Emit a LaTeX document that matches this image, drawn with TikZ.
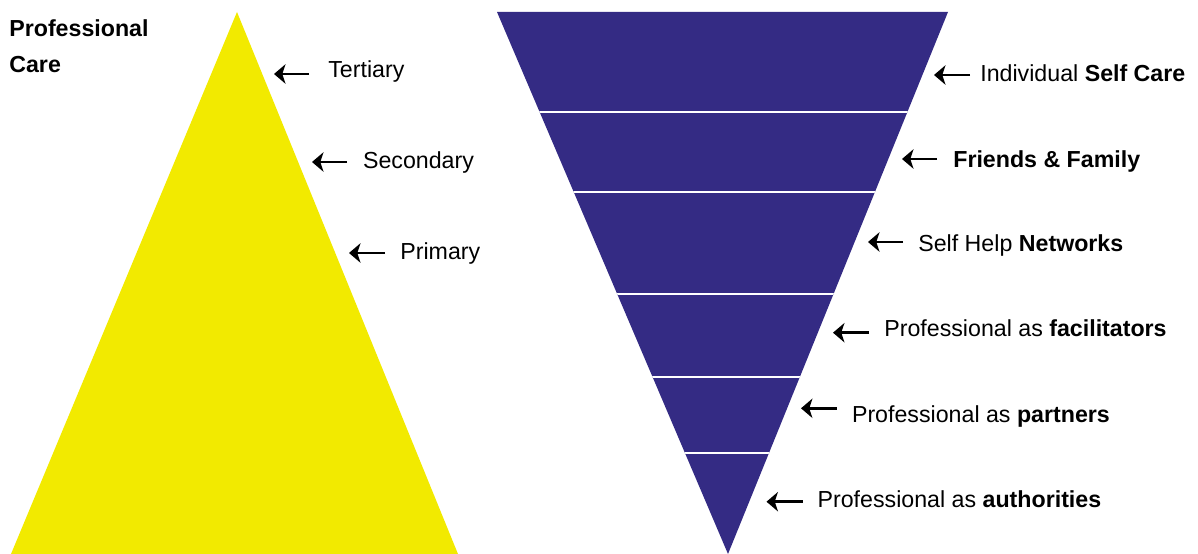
\documentclass[tikz,border=0pt]{standalone}
\usepackage{fontspec}
\setmainfont{Liberation Sans}
\usetikzlibrary{arrows.meta}
\definecolor{careyellow}{RGB}{242,234,0}
\definecolor{carepurple}{RGB}{52,43,132}
\tikzset{
    lbl/.style = {anchor = base west, inner sep = 0pt, font = \fontsize{13.2}{20.5}\selectfont},
    pointer/.style = {line width = 1.6pt, -{Stealth[length = 6.5pt, width = 11pt, inset = 1.8pt]}},
    bandline/.style = {color = white, line width = 1.1pt}
}
\begin{document}
\begin{tikzpicture}[x = 0.02cm, y = -0.02cm]
        \useasboundingbox (0,0) rectangle (1198,554);
        % professional pyramid
        \fill [careyellow] (237,12) -- (11,554) -- (458,554) -- cycle;
        % self care funnel
        \begin{scope}
            \clip (497,12) -- (948,12) -- (728,554) -- cycle;
            \fill [carepurple] (480,0) rectangle (960,554);
            \draw [bandline] (480,111.7) -- (960,111.7);
            \draw [bandline] (480,192) -- (960,192);
            \draw [bandline] (480,294) -- (960,294);
            \draw [bandline] (480,377) -- (960,377);
            \draw [bandline] (480,453) -- (960,453);
        \end{scope}
        \node [lbl, anchor = north west, align = left] (title) at (9,19) {\textbf{Professional}\\\textbf{Care}};
        % left labels
        \node [lbl] (tertiary) at (328,77.3) {Tertiary};
        \node [lbl] (secondary) at (362.7,168.3) {Secondary};
        \node [lbl] (primary) at (400,259) {Primary};
        \coordinate (tertiaryTail) at (309,74);   \coordinate (tertiaryTip) at (274,74);
        \coordinate (secondaryTail) at (347,162); \coordinate (secondaryTip) at (312,162);
        \coordinate (primaryTail) at (385,253);   \coordinate (primaryTip) at (349,253);
        \draw [pointer] (tertiaryTail) -- (tertiaryTip);
        \draw [pointer] (secondaryTail) -- (secondaryTip);
        \draw [pointer] (primaryTail) -- (primaryTip);
        % right labels
        \node [lbl] (selfcare) at (980,81.7) {Individual \textbf{Self Care}};
        \node [lbl] (family) at (953,167.7) {\textbf{Friends \& Family}};
        \node [lbl] (networks) at (918,251.7) {Self Help \textbf{Networks}};
        \node [lbl] (facilitators) at (884,336.7) {Professional as \textbf{facilitators}};
        \node [lbl] (partners) at (851.7,422.7) {Professional as \textbf{partners}};
        \node [lbl] (authorities) at (817.3,507.3) {Professional as \textbf{authorities}};
        \coordinate (selfcareTail) at (970,75);       \coordinate (selfcareTip) at (934,75);
        \coordinate (familyTail) at (937,159);        \coordinate (familyTip) at (902,159);
        \coordinate (networksTail) at (903,242);      \coordinate (networksTip) at (868,242);
        \coordinate (facilitatorsTail) at (869,332.7); \coordinate (facilitatorsTip) at (833,332.7);
        \coordinate (partnersTail) at (836.7,408.3);  \coordinate (partnersTip) at (801,408.3);
        \coordinate (authoritiesTail) at (802.7,501.7); \coordinate (authoritiesTip) at (766.5,501.7);
        \draw [pointer] (selfcareTail) -- (selfcareTip);
        \draw [pointer] (familyTail) -- (familyTip);
        \draw [pointer] (networksTail) -- (networksTip);
        \draw [pointer] (facilitatorsTail) -- (facilitatorsTip);
        \draw [pointer] (partnersTail) -- (partnersTip);
        \draw [pointer] (authoritiesTail) -- (authoritiesTip);
    \end{tikzpicture}
\end{document}
